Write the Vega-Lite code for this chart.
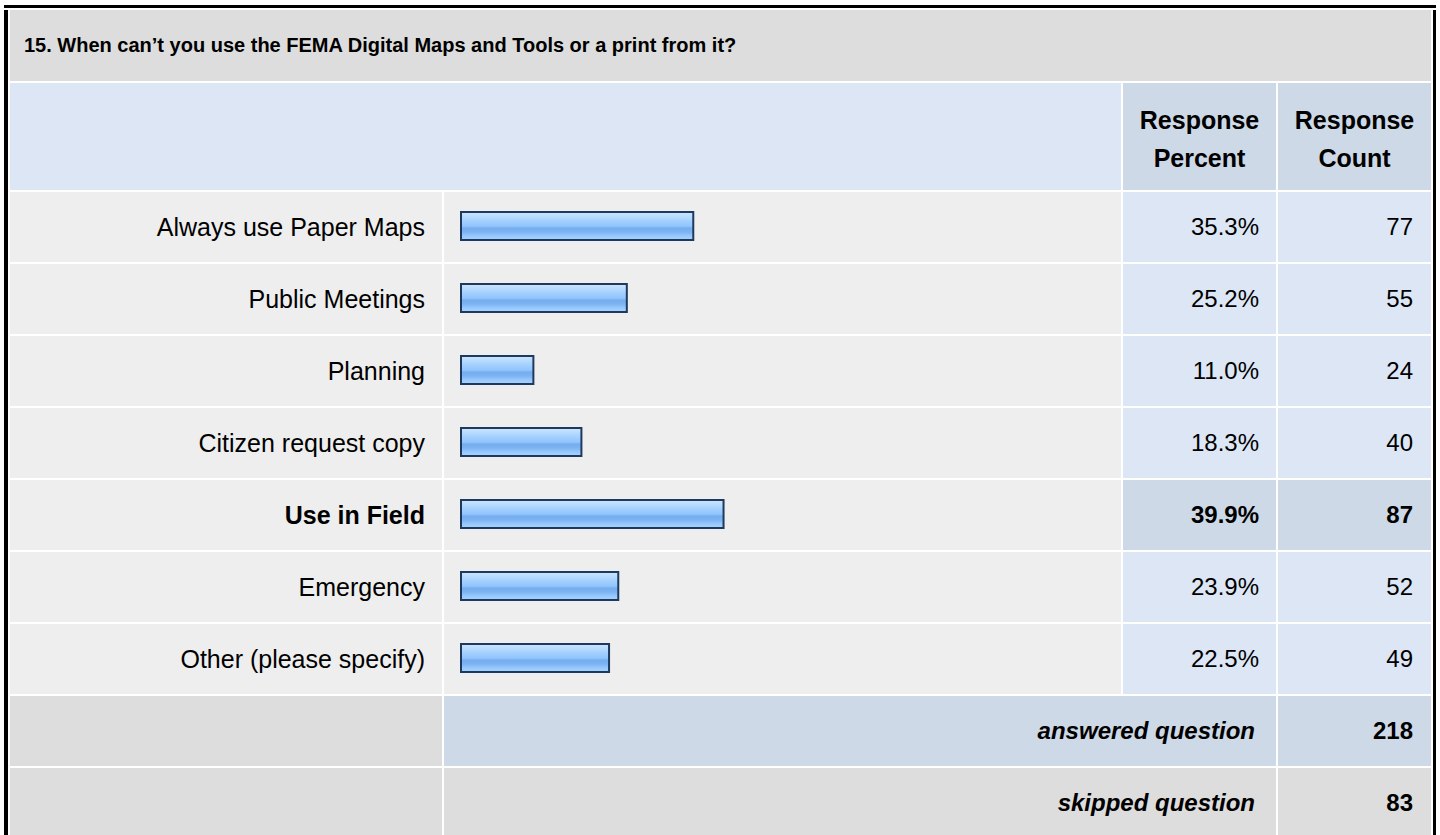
{
  "$schema": "https://vega.github.io/schema/vega-lite/v6.json",
  "background": "white",
  "padding": {"left": 4, "top": 5, "right": 0, "bottom": 0},
  "config": {
    "view": {"stroke": null},
    "font": "Liberation Sans",
    "text": {"color": "#000000", "fontSize": 24}
  },
  "datasets": {
    "question": [{"text": "15. When can’t you use the FEMA Digital Maps and Tools or a print from it?"}],
    "hpercent": [{"text": "Response\nPercent"}],
    "hcount": [{"text": "Response\nCount"}],
    "rows": [
      {"answer": "Always use Paper Maps", "percent": 0.353, "count": 77},
      {"answer": "Public Meetings", "percent": 0.252, "count": 55},
      {"answer": "Planning", "percent": 0.110, "count": 24},
      {"answer": "Citizen request copy", "percent": 0.183, "count": 40},
      {"answer": "Use in Field", "percent": 0.399, "count": 87},
      {"answer": "Emergency", "percent": 0.239, "count": 52},
      {"answer": "Other (please specify)", "percent": 0.225, "count": 49}
    ],
    "summary": [
      {"label": "answered question", "count": 218},
      {"label": "skipped question", "count": 83}
    ]
  },
  "spacing": 2,
  "vconcat": [
    {
      "width": 1432, "height": 3,
      "data": {"values": []},
      "mark": {"type": "text", "text": ""},
      "view": {"fill": "#000000", "stroke": null}
    },
    {
      "spacing": 2,
      "hconcat": [
        {
          "width": 4, "height": 828,
          "data": {"values": []},
          "mark": {"type": "text", "text": ""},
          "view": {"fill": "#000000", "stroke": null}
        },
        {
          "spacing": 2,
          "vconcat": [
            {
              "width": 1421, "height": 71,
              "data": {"name": "question"},
              "view": {"fill": "#dddddd", "stroke": null},
              "mark": {"type": "text", "align": "left", "baseline": "middle", "dx": 14, "fontWeight": "bold", "fontSize": 20},
              "encoding": {"x": {"value": 0}, "text": {"field": "text"}}
            },
            {
              "spacing": 2,
              "hconcat": [
                {
                  "width": 1111, "height": 107,
                  "data": {"values": []},
                  "mark": {"type": "text", "text": ""},
                  "view": {"fill": "#dce6f4", "stroke": null}
                },
                {
                  "width": 153, "height": 107,
                  "data": {"name": "hpercent"},
                  "view": {"fill": "#cdd9e6", "stroke": null},
                  "mark": {"type": "text", "align": "center", "baseline": "middle", "fontWeight": "bold", "fontSize": 25, "lineBreak": "\n", "lineHeight": 38, "dy": -16},
                  "encoding": {"text": {"field": "text"}}
                },
                {
                  "width": 153, "height": 107,
                  "data": {"name": "hcount"},
                  "view": {"fill": "#cdd9e6", "stroke": null},
                  "mark": {"type": "text", "align": "center", "baseline": "middle", "fontWeight": "bold", "fontSize": 25, "lineBreak": "\n", "lineHeight": 38, "dy": -16},
                  "encoding": {"text": {"field": "text"}}
                }
              ]
            },
            {
              "spacing": 2,
              "hconcat": [
                {
                  "width": 432, "height": 502,
                  "data": {"name": "rows"},
                  "transform": [{"joinaggregate": [{"op": "max", "field": "percent", "as": "maxp"}]}],
                  "encoding": {"y": {"field": "answer", "type": "nominal", "sort": null, "axis": null, "scale": {"paddingInner": 0.0278, "paddingOuter": 0}}},
                  "layer": [
                    {"mark": {"type": "bar", "color": "#eeeeee"}},
                    {
                      "mark": {"type": "text", "align": "right", "baseline": "middle", "dx": -17, "dy": 1, "fontSize": 25},
                      "encoding": {
                        "x": {"value": "width"},
                        "text": {"condition": {"test": "datum.percent === datum.maxp", "value": ""}, "field": "answer", "type": "nominal"}
                      }
                    },
                    {
                      "mark": {"type": "text", "align": "right", "baseline": "middle", "dx": -17, "dy": 1, "fontSize": 25, "fontWeight": "bold"},
                      "encoding": {
                        "x": {"value": "width"},
                        "text": {"condition": {"test": "datum.percent === datum.maxp", "field": "answer", "type": "nominal"}, "value": ""}
                      }
                    }
                  ]
                },
                {
                  "width": 677, "height": 502,
                  "data": {"name": "rows"},
                  "encoding": {"y": {"field": "answer", "type": "nominal", "sort": null, "axis": null, "scale": {"paddingInner": 0.0278, "paddingOuter": 0}}},
                  "layer": [
                    {"mark": {"type": "bar", "color": "#eeeeee"}},
                    {
                      "mark": {
                        "type": "bar",
                        "height": {"band": 0.4},
                        "yOffset": -1,
                        "fill": {
                          "gradient": "linear", "x1": 0, "y1": 0, "x2": 0, "y2": 1,
                          "stops": [
                            {"offset": 0, "color": "#cde6ff"},
                            {"offset": 0.2, "color": "#b3d9ff"},
                            {"offset": 0.35, "color": "#9fceff"},
                            {"offset": 0.5, "color": "#93c6fc"},
                            {"offset": 0.58, "color": "#75adef"},
                            {"offset": 0.72, "color": "#7db4f3"},
                            {"offset": 0.85, "color": "#96c8fd"},
                            {"offset": 1, "color": "#a9d3ff"}
                          ]
                        },
                        "stroke": "#1d3a5e",
                        "strokeWidth": 2
                      },
                      "encoding": {
                        "x": {"field": "percent", "type": "quantitative", "axis": null, "scale": {"domain": [0, 1], "range": [17, 675]}}
                      }
                    }
                  ]
                },
                {
                  "width": 153, "height": 502,
                  "data": {"name": "rows"},
                  "transform": [{"joinaggregate": [{"op": "max", "field": "percent", "as": "maxp"}]}],
                  "encoding": {"y": {"field": "answer", "type": "nominal", "sort": null, "axis": null, "scale": {"paddingInner": 0.0278, "paddingOuter": 0}}},
                  "layer": [
                    {"mark": {"type": "bar"}, "encoding": {"color": {"condition": {"test": "datum.percent === datum.maxp", "value": "#cdd9e6"}, "value": "#dce6f4"}}},
                    {
                      "mark": {"type": "text", "align": "right", "baseline": "middle", "dx": -17, "dy": 1},
                      "encoding": {
                        "x": {"value": "width"},
                        "text": {"condition": {"test": "datum.percent === datum.maxp", "value": ""}, "field": "percent", "type": "quantitative", "format": ".1%"}
                      }
                    },
                    {
                      "mark": {"type": "text", "align": "right", "baseline": "middle", "dx": -17, "dy": 1, "fontWeight": "bold"},
                      "encoding": {
                        "x": {"value": "width"},
                        "text": {"condition": {"test": "datum.percent === datum.maxp", "field": "percent", "type": "quantitative", "format": ".1%"}, "value": ""}
                      }
                    }
                  ]
                },
                {
                  "width": 153, "height": 502,
                  "data": {"name": "rows"},
                  "transform": [{"joinaggregate": [{"op": "max", "field": "percent", "as": "maxp"}]}],
                  "encoding": {"y": {"field": "answer", "type": "nominal", "sort": null, "axis": null, "scale": {"paddingInner": 0.0278, "paddingOuter": 0}}},
                  "layer": [
                    {"mark": {"type": "bar"}, "encoding": {"color": {"condition": {"test": "datum.percent === datum.maxp", "value": "#cdd9e6"}, "value": "#dce6f4"}}},
                    {
                      "mark": {"type": "text", "align": "right", "baseline": "middle", "dx": -18, "dy": 1},
                      "encoding": {
                        "x": {"value": "width"},
                        "text": {"condition": {"test": "datum.percent === datum.maxp", "value": ""}, "field": "count", "type": "quantitative"}
                      }
                    },
                    {
                      "mark": {"type": "text", "align": "right", "baseline": "middle", "dx": -18, "dy": 1, "fontWeight": "bold"},
                      "encoding": {
                        "x": {"value": "width"},
                        "text": {"condition": {"test": "datum.percent === datum.maxp", "field": "count", "type": "quantitative"}, "value": ""}
                      }
                    }
                  ]
                }
              ]
            },
            {
              "spacing": 2,
              "hconcat": [
                {
                  "width": 432, "height": 142,
                  "data": {"name": "summary"},
                  "encoding": {"y": {"field": "label", "type": "nominal", "sort": null, "axis": null, "scale": {"paddingInner": 0.0278, "paddingOuter": 0}}},
                  "mark": {"type": "bar", "color": "#dddddd"}
                },
                {
                  "width": 832, "height": 142,
                  "data": {"name": "summary"},
                  "encoding": {"y": {"field": "label", "type": "nominal", "sort": null, "axis": null, "scale": {"paddingInner": 0.0278, "paddingOuter": 0}}},
                  "layer": [
                    {"mark": {"type": "bar"}, "encoding": {"color": {"condition": {"test": "datum.label === 'answered question'", "value": "#cdd9e6"}, "value": "#dddddd"}}},
                    {
                      "mark": {"type": "text", "align": "right", "baseline": "middle", "dx": -21, "dy": 1, "fontWeight": "bold", "fontStyle": "italic"},
                      "encoding": {"x": {"value": "width"}, "text": {"field": "label", "type": "nominal"}}
                    }
                  ]
                },
                {
                  "width": 153, "height": 142,
                  "data": {"name": "summary"},
                  "encoding": {"y": {"field": "label", "type": "nominal", "sort": null, "axis": null, "scale": {"paddingInner": 0.0278, "paddingOuter": 0}}},
                  "layer": [
                    {"mark": {"type": "bar"}, "encoding": {"color": {"condition": {"test": "datum.label === 'answered question'", "value": "#cdd9e6"}, "value": "#dddddd"}}},
                    {
                      "mark": {"type": "text", "align": "right", "baseline": "middle", "dx": -18, "dy": 1, "fontWeight": "bold"},
                      "encoding": {"x": {"value": "width"}, "text": {"field": "count", "type": "quantitative"}}
                    }
                  ]
                }
              ]
            }
          ]
        },
        {
          "width": 3, "height": 828,
          "data": {"values": []},
          "mark": {"type": "text", "text": ""},
          "view": {"fill": "#000000", "stroke": null}
        }
      ]
    }
  ]
}
